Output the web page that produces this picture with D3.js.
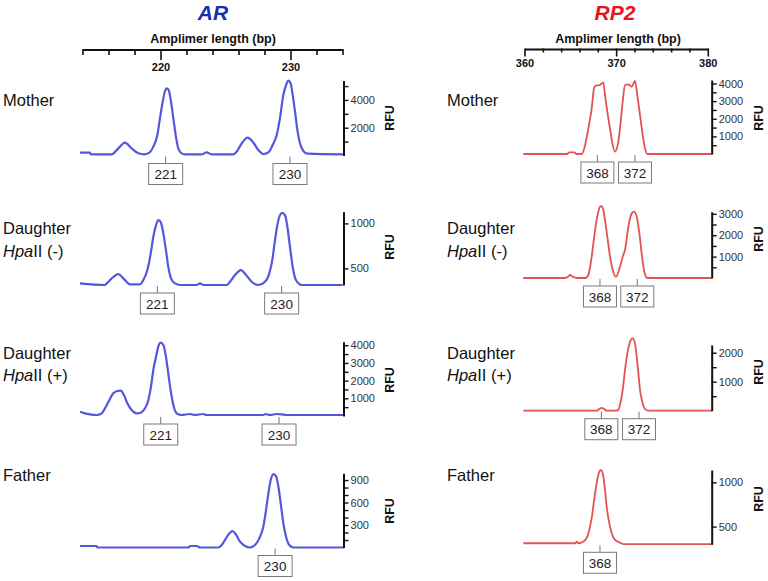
<!DOCTYPE html>
<html><head><meta charset="utf-8">
<script src="https://cdn.jsdelivr.net/npm/d3@7"></script>
<style>
body{margin:0;background:#fff}
svg{display:block;font-family:"Liberation Sans",Arial,Helvetica,sans-serif}
</style>
</head><body>
<svg id="c" width="768" height="581"></svg>
<script>
// ---------- DATA ----------
const arTitle = "AR", rp2Title = "RP2";
const axisTitle = "Amplimer length (bp)";
const arBpTicks = [214,216,218,220,222,224,226,228,230,232,234];
const arBpLabels = [220,230];
const rp2BpTicks = [360,362,364,366,368,370,372,374,376,378,380];
const rp2BpLabels = [360,370,380];

// traces: [bp, RFU]
const arMother = [[213.77,200],[214.54,200],[214.6,84],[216.21,84],[216.72,516],[217.23,924],[217.74,516],[218.26,160],[218.7,84],[219.03,156],[219.41,636],[219.72,1476],[219.92,2676],[220.13,3876],[220.31,4644],[220.44,4836],[220.59,4716],[220.77,3876],[220.95,2676],[221.15,1356],[221.33,516],[221.59,156],[221.85,84],[223.13,84],[223.51,228],[223.9,84],[225.56,84],[225.82,276],[226.21,876],[226.67,1284],[227.05,996],[227.49,396],[227.87,108],[228.26,228],[228.59,756],[228.9,1476],[229.15,2676],[229.41,4356],[229.62,5076],[229.79,5388],[229.97,5196],[230.13,4356],[230.31,3156],[230.51,1716],[230.69,876],[230.95,324],[231.26,132],[234.03,84]];
const arDaughterNeg = [[213.77,333],[215.69,315],[215.82,333],[216.21,389],[216.72,437],[217.10,389],[217.62,322],[218.38,322],[218.64,370],[218.95,481],[219.21,666],[219.41,851],[219.62,981],[219.79,1037],[219.97,1018],[220.18,889],[220.38,703],[220.56,518],[220.77,389],[221.08,333],[221.46,315],[222.74,315],[223.0,333],[223.26,315],[225.05,315],[225.31,351],[225.69,426],[226.15,481],[226.54,426],[226.97,351],[227.49,315],[228.0,351],[228.33,444],[228.56,592],[228.77,814],[228.95,981],[229.15,1092],[229.33,1118],[229.54,1092],[229.72,963],[229.92,740],[230.13,518],[230.38,370],[230.82,315],[233.97,315]];
const arDaughterPos = [[213.77,245],[214.15,151],[214.54,94],[215.05,56],[215.44,151],[215.69,433],[216.03,904],[216.33,1281],[216.64,1412],[216.90,1431],[217.15,1186],[217.41,716],[217.74,339],[218.13,151],[218.44,188],[218.77,433],[219.03,904],[219.23,1657],[219.41,2599],[219.62,3352],[219.79,3917],[219.97,4143],[220.18,4011],[220.38,3352],[220.56,2411],[220.74,1469],[220.95,621],[221.21,151],[221.59,56],[222.23,113],[222.62,56],[223.21,113],[223.51,56],[227.87,56],[228.0,113],[228.38,56],[228.90,113],[229.28,94],[229.67,56],[234.03,56]];
const arFather = [[213.77,20],[215.05,20],[215.10,0],[222.10,0],[222.23,20],[222.74,20],[223.0,0],[224.41,0],[224.67,33],[224.92,100],[225.26,189],[225.49,220],[225.74,180],[226.08,78],[226.46,20],[226.85,0],[227.23,33],[227.56,122],[227.87,278],[228.08,500],[228.26,722],[228.44,900],[228.64,980],[228.85,953],[229.03,811],[229.21,589],[229.41,322],[229.62,144],[229.87,33],[230.18,0],[234.08,0]];

const rp2Mother = [[359.82,0],[364.6,0],[364.8,96],[365.4,96],[365.6,0],[366.18,0],[366.55,486],[366.91,1458],[367.28,2594],[367.53,3729],[367.71,3876],[368.18,3916],[368.54,4069],[368.73,3348],[368.98,2401],[369.27,1458],[369.57,511],[369.82,131],[370.18,698],[370.44,1833],[370.66,2968],[370.91,3916],[371.27,3955],[371.64,3820],[372.0,4143],[372.25,3348],[372.55,2213],[372.84,1078],[373.09,323],[373.35,0],[380.37,0]];
const rp2DaughterNeg = [[359.82,0],[364.36,0],[364.7,62],[364.91,140],[365.2,62],[365.64,0],[366.6,0],[366.91,140],[367.17,685],[367.46,1620],[367.75,2554],[368.0,3100],[368.18,3333],[368.37,3364],[368.55,3178],[368.73,2710],[368.98,1931],[369.28,996],[369.57,374],[369.93,62],[370.37,530],[370.66,996],[370.91,1308],[371.28,2399],[371.64,3022],[371.89,3100],[372.19,2866],[372.48,2087],[372.73,1152],[372.98,374],[373.35,0],[380.37,0]];
const rp2DaughterPos = [[359.82,0],[367.82,0],[368.1,60],[368.37,100],[368.65,60],[368.91,0],[370.0,0],[370.18,23],[370.44,310],[370.66,714],[370.91,1403],[371.17,1977],[371.46,2379],[371.75,2497],[372.0,2322],[372.19,1862],[372.37,1289],[372.55,714],[372.84,253],[373.2,23],[373.5,0],[380.37,0]];
const rp2Father = [[359.82,312],[365.5,312],[365.64,330],[365.82,312],[366.37,331],[366.80,387],[367.09,500],[367.3,610],[367.53,790],[367.82,989],[368.07,1109],[368.26,1139],[368.48,1101],[368.73,913],[368.91,725],[369.20,538],[369.46,425],[369.82,350],[370.37,319],[370.8,301],[380.37,301]];

// allele calls [bp, label]
const arMotherCalls = [[220.36,"221"],[229.92,"230"]];
const arDaughterNegCalls = [[219.72,"221"],[229.28,"230"]];
const arDaughterPosCalls = [[219.98,"221"],[229.08,"230"]];
const arFatherCalls = [[228.78,"230"]];
const rp2MotherCalls = [[367.9,"368"],[372.0,"372"]];
const rp2DaughterNegCalls = [[368.18,"368"],[372.25,"372"]];
const rp2DaughterPosCalls = [[368.33,"368"],[372.44,"372"]];
const rp2FatherCalls = [[368.18,"368"]];

// RFU axes: domain, tick values, labelled ticks
const arMotherRfu = [0,5400], arMotherTicks = [1000,2000,3000,4000,5000], arMotherLab = [2000,4000];
const arDaughterNegRfu = [315,1130], arDaughterNegTicks = [500,1000], arDaughterNegLab = [500,1000];
const arDaughterPosRfu = [0,4200], arDaughterPosTicks = [500,1000,1500,2000,2500,3000,3500,4000], arDaughterPosLab = [1000,2000,3000,4000];
const arFatherRfu = [0,990], arFatherTicks = [100,200,300,400,500,600,700,800,900], arFatherLab = [300,600,900];
const rp2MotherRfu = [0,4200], rp2MotherTicks = [500,1000,1500,2000,2500,3000,3500,4000], rp2MotherLab = [1000,2000,3000,4000];
const rp2DaughterNegRfu = [0,3100], rp2DaughterNegTicks = [500,1000,1500,2000,2500,3000], rp2DaughterNegLab = [1000,2000,3000];
const rp2DaughterPosRfu = [0,2266], rp2DaughterPosTicks = [500,1000,1500,2000], rp2DaughterPosLab = [1000,2000];
const rp2FatherRfu = [300,1139], rp2FatherTicks = [500,1000], rp2FatherLab = [500,1000];

const rowLabels = [
  [["Mother"]],
  [["Daughter"],["Hpa","II (-)"]],
  [["Daughter"],["Hpa","II (+)"]],
  [["Father"]]
];

// ---------- LAYOUT ----------
const svg = d3.select("#c");
const arX = d3.scaleLinear([214,234],[83,343]);
const rpX = d3.scaleLinear([360,380],[525,708.3]);
const arColor = "#5656dc", rpColor = "#e45252";

const columns = [
  {x: arX, axisBp: 234.04, color: arColor, lw: 2.2, boxW: 34, rfuX: 390, labelX: 3,
   title: arTitle, titleColor: "#1b2db0", titleX: 213, ticks: arBpTicks, labs: arBpLabels, axY: 50, majL: 10, minL: 5, labY: 71, atX: 213,
   panels: [
    {d: arMother, c: arMotherCalls, dom: arMotherRfu, yr: [155.5,80.5], t: arMotherTicks, l: arMotherLab, rfuY: 118},
    {d: arDaughterNeg, c: arDaughterNegCalls, dom: arDaughterNegRfu, yr: [285,211.7], t: arDaughterNegTicks, l: arDaughterNegLab, rfuY: 247},
    {d: arDaughterPos, c: arDaughterPosCalls, dom: arDaughterPosRfu, yr: [416,341.7], t: arDaughterPosTicks, l: arDaughterPosLab, rfuY: 380},
    {d: arFather, c: arFatherCalls, dom: arFatherRfu, yr: [547.5,473.3], t: arFatherTicks, l: arFatherLab, rfuY: 511}
   ]},
  {x: rpX, axisBp: 380.37, color: rpColor, lw: 1.8, boxW: 33, rfuX: 759, labelX: 447,
   title: rp2Title, titleColor: "#e8141c", titleX: 615, ticks: rp2BpTicks, labs: rp2BpLabels, axY: 49.5, majL: 7, minL: 3, labY: 67, atX: 618,
   panels: [
    {d: rp2Mother, c: rp2MotherCalls, dom: rp2MotherRfu, yr: [154,80], t: rp2MotherTicks, l: rp2MotherLab, rfuY: 118},
    {d: rp2DaughterNeg, c: rp2DaughterNegCalls, dom: rp2DaughterNegRfu, yr: [278,211.7], t: rp2DaughterNegTicks, l: rp2DaughterNegLab, rfuY: 239},
    {d: rp2DaughterPos, c: rp2DaughterPosCalls, dom: rp2DaughterPosRfu, yr: [410.7,345], t: rp2DaughterPosTicks, l: rp2DaughterPosLab, rfuY: 372},
    {d: rp2Father, c: rp2FatherCalls, dom: rp2FatherRfu, yr: [544.3,470], t: rp2FatherTicks, l: rp2FatherLab, rfuY: 499}
   ]}
];
const rowTextY = [[106],[233.5,256.5],[358.5,381],[481]];

columns.forEach(col => {
  // title
  svg.append("text").attr("x", col.titleX).attr("y", 20).attr("text-anchor","middle")
    .attr("font-size", 21).attr("font-weight","bold").attr("font-style","italic")
    .attr("fill", col.titleColor).text(col.title);
  svg.append("text").attr("x", col.atX).attr("y", 42.5).attr("text-anchor","middle")
    .attr("font-size", 12.5).attr("font-weight","bold").attr("fill","#111").text(axisTitle);
  // top bp axis
  const g = svg.append("g").attr("transform", `translate(0,${col.axY})`);
  const xs = col.x;
  g.append("line").attr("x1", xs(col.ticks[0])).attr("x2", xs(col.ticks[col.ticks.length-1]))
    .attr("stroke","#111").attr("stroke-width",2);
  g.selectAll("line.t").data(col.ticks).join("line").attr("class","t")
    .attr("x1", d=>xs(d)).attr("x2", d=>xs(d)).attr("y1", -1)
    .attr("y2", d=> col.labs.includes(d) ? col.majL : col.minL)
    .attr("stroke","#111").attr("stroke-width",1.6);
  svg.selectAll(null).data(col.labs).join("text")
    .attr("x", d=>xs(d)).attr("y", col.labY).attr("text-anchor","middle")
    .attr("font-size", 11).attr("font-weight","bold").attr("fill","#111").text(d=>d);

  col.panels.forEach((p, i) => {
    const y = d3.scaleLinear(p.dom, p.yr);
    const ax = xs(col.axisBp);
    // trace
    const line = d3.line().x(d=>xs(d[0])).y(d=>y(d[1])).curve(d3.curveMonotoneX);
    svg.append("path").attr("d", line(p.d)).attr("fill","none")
      .attr("stroke", col.color).attr("stroke-width", col.lw).attr("stroke-linejoin","round");
    // RFU axis
    const axis = d3.axisRight(y).tickValues(p.t).tickSize(5).tickSizeOuter(0).tickPadding(2)
      .tickFormat(d => p.l.includes(d) ? d : "");
    const ag = svg.append("g").attr("transform", `translate(${ax},0)`).call(axis);
    ag.select(".domain").attr("stroke","#111").attr("stroke-width",2);
    ag.selectAll(".tick line").attr("stroke","#111").attr("stroke-width",1.4);
    ag.selectAll(".tick text").attr("font-size",11).attr("fill","#333")
      .attr("font-family",'"Liberation Sans",Arial,sans-serif');
    svg.append("text").attr("transform", `translate(${col.rfuX},${p.rfuY}) rotate(-90)`)
      .attr("text-anchor","middle").attr("dy","0.35em").attr("font-size",12.5).attr("font-weight","bold")
      .attr("fill","#111").text("RFU");
    // allele calls
    const by = p.yr[0] + 8, bh = 21;
    p.c.forEach(([bp, lab]) => {
      const cx = xs(bp);
      svg.append("line").attr("x1",cx).attr("x2",cx).attr("y1",p.yr[0]+1).attr("y2",by)
        .attr("stroke","#777").attr("stroke-width",1);
      svg.append("rect").attr("x",cx-col.boxW/2).attr("y",by).attr("width",col.boxW).attr("height",bh)
        .attr("fill","#fff").attr("stroke","#7a7a7a").attr("stroke-width",1);
      svg.append("text").attr("x",cx).attr("y",by+15.5).attr("text-anchor","middle")
        .attr("font-size",13.5).attr("fill","#222").text(lab);
    });
    // row label
    rowLabels[i].forEach((parts, k) => {
      const t = svg.append("text").attr("x", col.labelX).attr("y", rowTextY[i][k])
        .attr("font-size", 16.5).attr("fill","#111");
      if (parts.length === 1) t.text(parts[0]);
      else { t.append("tspan").attr("font-style","italic").text(parts[0]); t.append("tspan").text(parts[1]); }
    });
  });
});
</script>
</body></html>
